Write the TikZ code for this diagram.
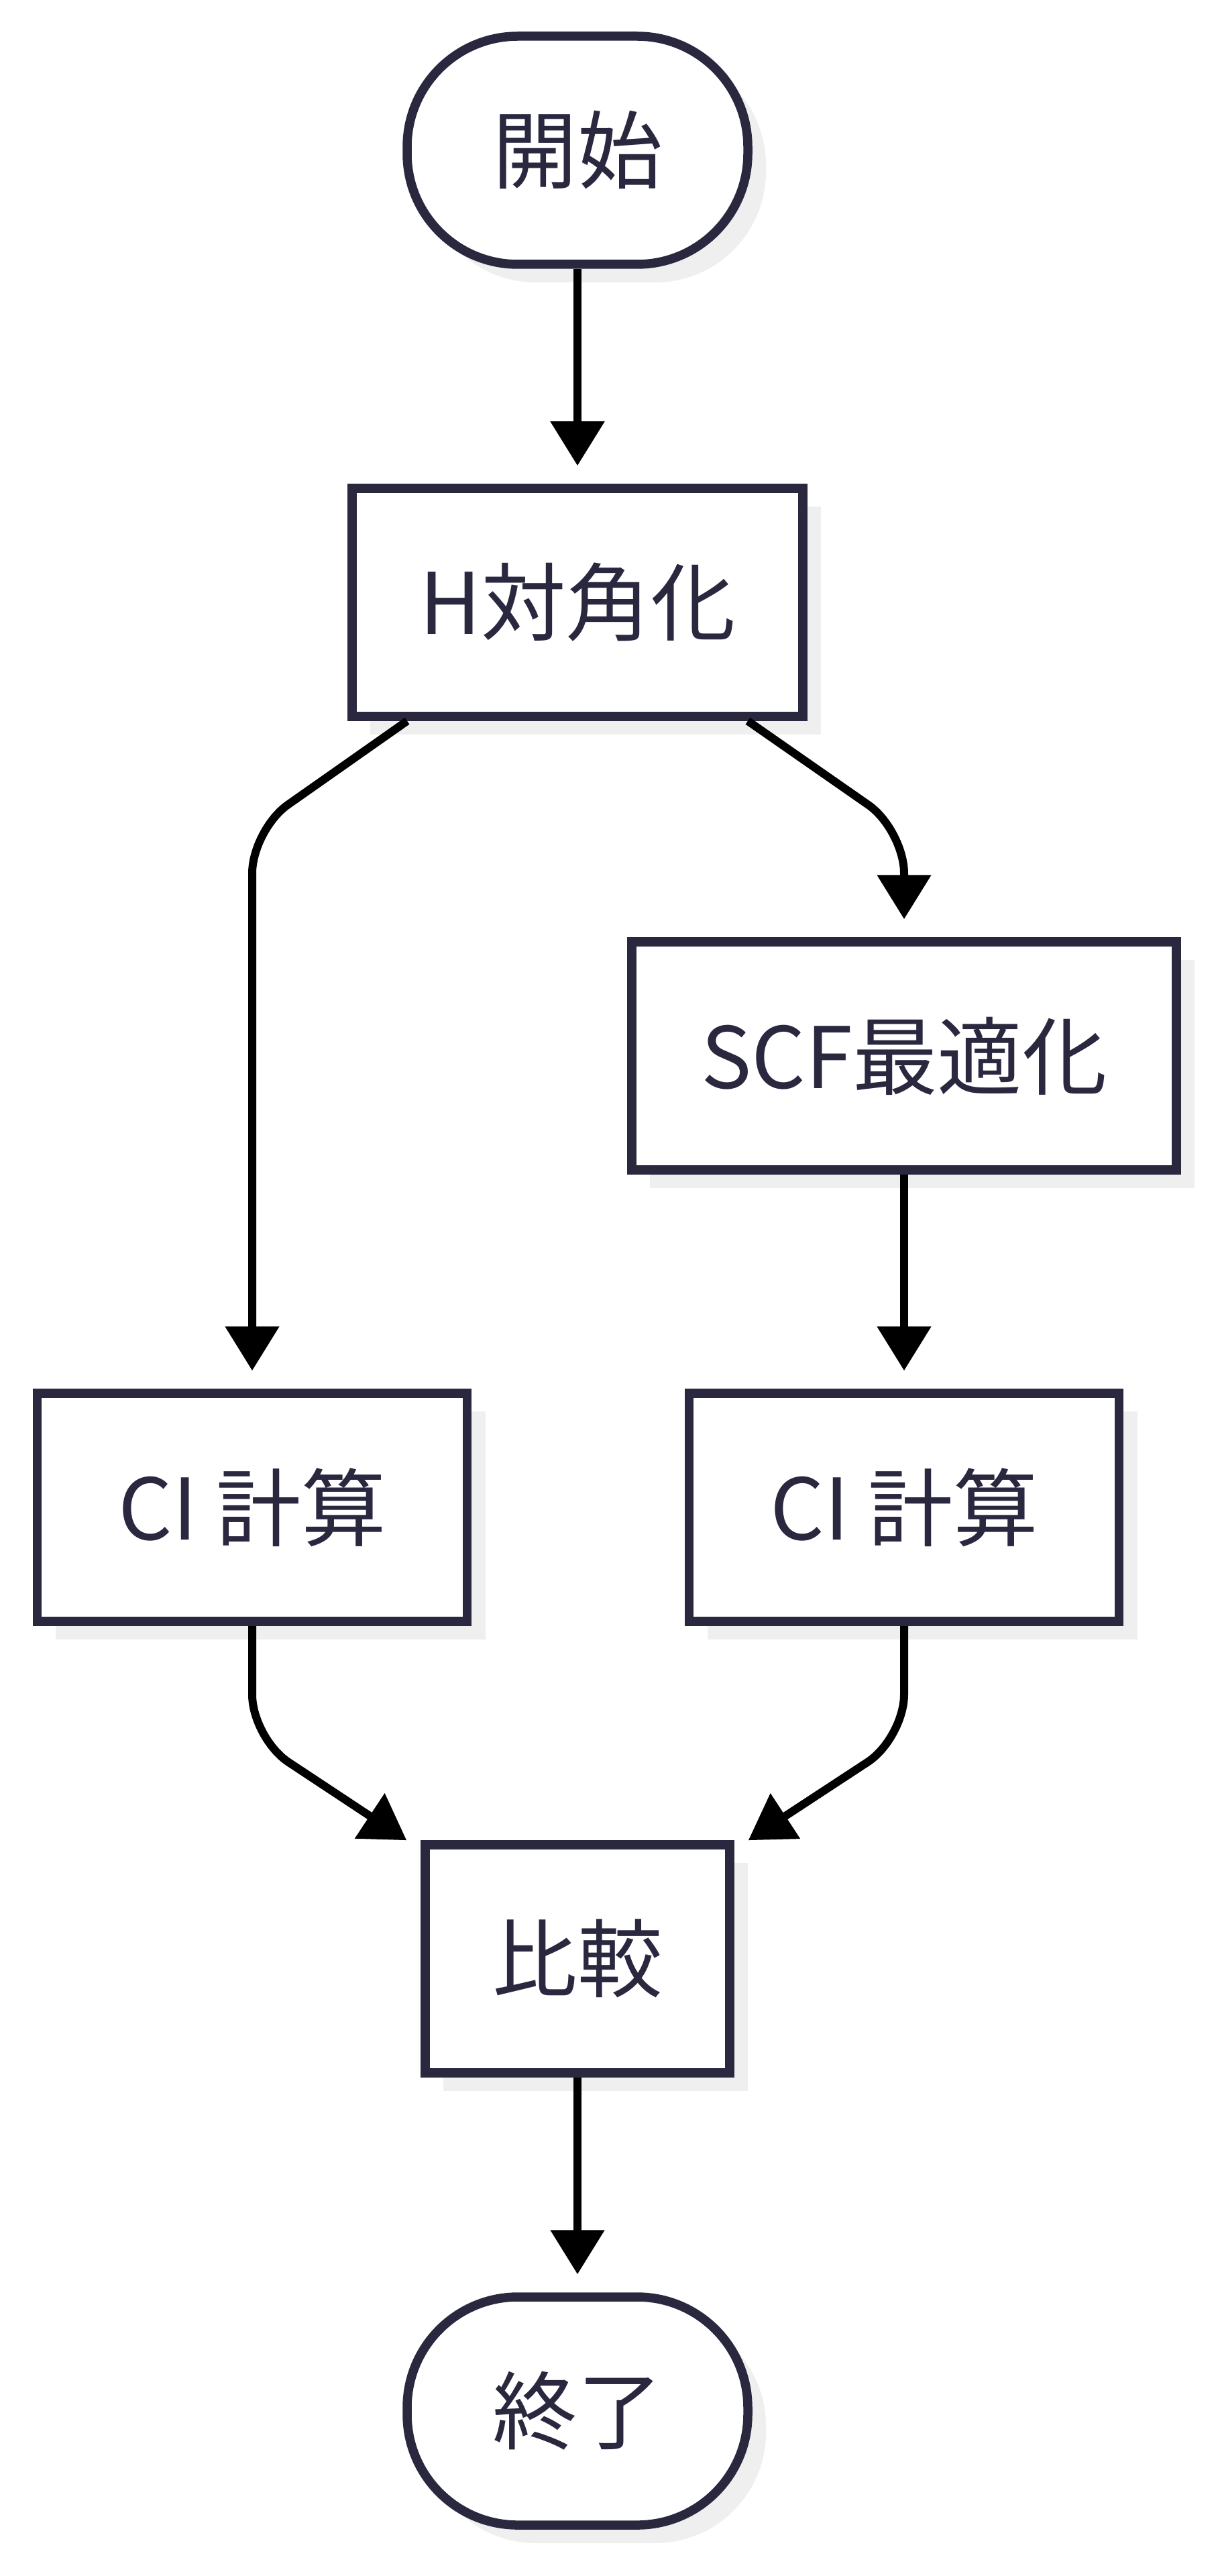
\documentclass[tikz,border=0pt]{standalone}
\usepackage{fontspec}
\setmainfont{Noto Sans CJK JP}
\usetikzlibrary{arrows.meta,shadows}
\definecolor{boxline}{HTML}{29283F}
\definecolor{shade}{HTML}{EFEFEF}

\begin{document}
\begin{tikzpicture}[
  font=\fontsize{36}{43}\selectfont,
  box/.style={draw=boxline, text=boxline, fill=white, line width=0.135cm, minimum height=3.40cm,
    drop shadow={shadow xshift=0.27cm, shadow yshift=-0.27cm, fill=shade, opacity=1}},
  term/.style={box, rounded corners=1.65cm, minimum width=5.08cm},
  arr/.style={-{Triangle[length=0.66cm, width=0.78cm]}, line width=0.12cm, shorten >=0.27cm}
]
\useasboundingbox (0,0) rectangle (18.19,-38.40);

\node[term] (start) at (8.61,-2.24) {開始};
\node[box, minimum width=6.72cm] (diag) at (8.61,-8.98) {H対角化};
\node[box, minimum width=8.12cm] (scf) at (13.48,-15.74) {SCF最適化};
\node[box, minimum width=6.41cm] (cil) at (3.76,-22.47) {CI 計算};
\node[box, minimum width=6.41cm] (cir) at (13.48,-22.47) {CI 計算};
\node[box, minimum width=4.54cm] (cmp) at (8.61,-29.20) {比較};
\node[term] (stop) at (8.61,-35.94) {終了};

\coordinate[xshift=-0.21cm] (inL) at (cmp.north west);
\coordinate[xshift=0.21cm] (inR) at (cmp.north east);

\draw[arr] (start) -- (diag);
\draw[arr, rounded corners=0.65cm] ([xshift=-2.54cm]diag.south) -- (3.76,-12.37) -- (cil.north);
\draw[arr, rounded corners=0.65cm] ([xshift=2.54cm]diag.south) -- (13.48,-12.37) -- (scf.north);
\draw[arr] (scf) -- (cir);
\draw[arr, shorten >=0pt, rounded corners=0.65cm] (cil.south) -- (3.76,-25.91) -- (inL);
\draw[arr, shorten >=0pt, rounded corners=0.65cm] (cir.south) -- (13.48,-25.91) -- (inR);
\draw[arr] (cmp) -- (stop);
\end{tikzpicture}
\end{document}
